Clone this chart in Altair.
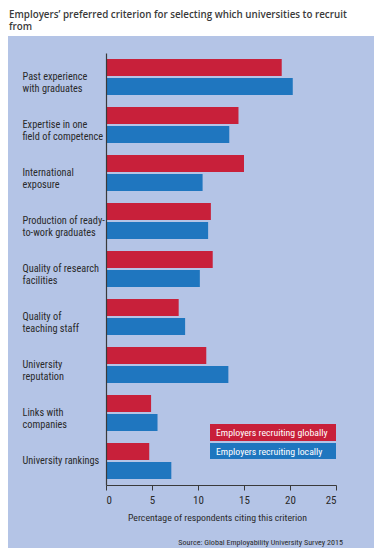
import altair as alt
import pandas as pd

categories = [
    "Past experience|with graduates",
    "Expertise in one|field of competence",
    "International|exposure",
    "Production of ready-|to-work graduates",
    "Quality of research|facilities",
    "Quality of|teaching staff",
    "University|reputation",
    "Links with|companies",
    "University rankings",
]
series = ["Employers recruiting globally", "Employers recruiting locally"]
global_vals = [19.1, 14.4, 15.0, 11.4, 11.6, 7.9, 10.9, 4.9, 4.7]
local_vals = [20.3, 13.4, 10.5, 11.1, 10.2, 8.6, 13.3, 5.6, 7.1]
x_ticks = [0, 5, 10, 15, 20, 25]

title_lines = [
    "Employers\u2019 preferred criterion for selecting which universities to recruit",
    "from",
]
x_title = "Percentage of respondents citing this criterion"
source_text = "Source: Global Employability University Survey 2015"

RED = "#c8203a"
BLUE = "#1f76bf"
PANEL = "#b4c4e6"
TEXT = "#2a2a2a"
NARROW = "Roboto Condensed"

rows = []
for c, g, l in zip(categories, global_vals, local_vals):
    rows.append({"cat": c, "series": series[0], "val": g})
    rows.append({"cat": c, "series": series[1], "val": l})
df = pd.DataFrame(rows)

one = pd.DataFrame({"a": [0]})

panel = alt.Chart(one).mark_rect(color=PANEL).encode(
    x=alt.value(-98), x2=alt.value(268), y=alt.value(-17), y2=alt.value(495)
)

bars = alt.Chart(df).mark_bar().encode(
    y=alt.Y(
        "cat:N",
        sort=categories,
        scale=alt.Scale(paddingInner=0.25, paddingOuter=0.125),
        axis=alt.Axis(
            title=None,
            labelAlign="left",
            labelPadding=84,
            ticks=False,
            domain=True,
            domainColor="#3a3a3a",
            domainWidth=1.2,
            labelExpr="split(datum.label, '|')",
            labelFont=NARROW,
            labelFontSize=10.3,
            labelLineHeight=12,
            labelColor=TEXT,
            labelBaseline="middle",
            labelLimit=0,
            zindex=2,
        ),
    ),
    yOffset=alt.YOffset(
        "series:N", sort=series, scale=alt.Scale(paddingInner=0.11, paddingOuter=0)
    ),
    x=alt.X(
        "val:Q",
        scale=alt.Scale(domain=[0, 25], nice=False),
        axis=alt.Axis(
            values=x_ticks,
            title=x_title,
            grid=False,
            domainColor="#3a3a3a",
            tickColor="#3a3a3a",
            tickSize=5,
            labelPadding=4,
            labelFont=NARROW,
            labelFontSize=11,
            labelColor=TEXT,
            titleFont=NARROW,
            titleFontSize=9.8,
            titleFontWeight="normal",
            titleColor=TEXT,
            titlePadding=7,
            titleX=111,
            zindex=2,
        ),
    ),
    color=alt.Color(
        "series:N",
        scale=alt.Scale(domain=series, range=[RED, BLUE]),
        legend=None,
    ),
)

leg_red = alt.Chart(one).mark_rect(color=RED).encode(
    x=alt.value(104), x2=alt.value(230), y=alt.value(371), y2=alt.value(388)
)
leg_blue = alt.Chart(one).mark_rect(color=BLUE).encode(
    x=alt.value(104), x2=alt.value(230), y=alt.value(390), y2=alt.value(406)
)
leg_t1 = alt.Chart(one).mark_text(
    text=series[0], color="white", font=NARROW, fontSize=9.8, align="left", baseline="middle"
).encode(x=alt.value(110), y=alt.value(380))
leg_t2 = alt.Chart(one).mark_text(
    text=series[1], color="white", font=NARROW, fontSize=9.8, align="left", baseline="middle"
).encode(x=alt.value(110), y=alt.value(398.5))

t1 = alt.Chart(one).mark_text(
    text=title_lines[0], color="#3a3a3a", font="Open Sans", fontWeight=600,
    fontSize=9.8, align="left", baseline="middle"
).encode(x=alt.value(-97), y=alt.value(-38))
t2 = alt.Chart(one).mark_text(
    text=title_lines[1], color="#3a3a3a", font="Open Sans", fontWeight=600,
    fontSize=9.8, align="left", baseline="middle"
).encode(x=alt.value(-97), y=alt.value(-26))

src = alt.Chart(one).mark_text(
    text=source_text, color=TEXT, font=NARROW, fontSize=8.1, align="right", baseline="middle"
).encode(x=alt.value(237), y=alt.value(490))

chart = alt.layer(
    panel, bars, leg_red, leg_blue, leg_t1, leg_t2, t1, t2, src
).properties(
    width=230,
    height=432,
    autosize=alt.AutoSizeParams(type="none"),
    padding={"left": 98, "top": 45, "right": 38, "bottom": 63},
    background="white",
).configure_view(strokeWidth=0)

chart.save("out.html", embed_options={"renderer": "svg", "actions": False})
